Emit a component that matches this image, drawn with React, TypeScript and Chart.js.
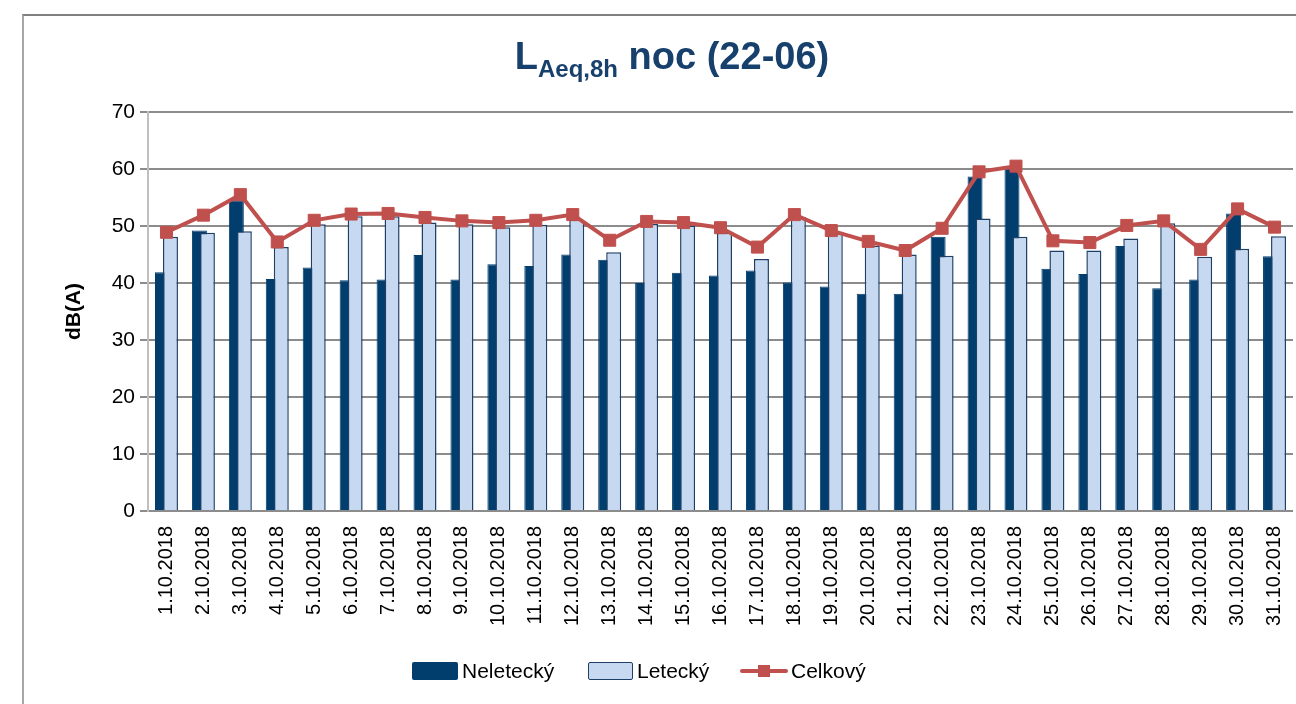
import React, { useEffect, useRef } from "react";
import { Chart, registerables } from "chart.js";

Chart.register(...registerables);

const dayLabels: string[] = [
  "1.10.2018", "2.10.2018", "3.10.2018", "4.10.2018", "5.10.2018", "6.10.2018",
  "7.10.2018", "8.10.2018", "9.10.2018", "10.10.2018", "11.10.2018", "12.10.2018",
  "13.10.2018", "14.10.2018", "15.10.2018", "16.10.2018", "17.10.2018", "18.10.2018",
  "19.10.2018", "20.10.2018", "21.10.2018", "22.10.2018", "23.10.2018", "24.10.2018",
  "25.10.2018", "26.10.2018", "27.10.2018", "28.10.2018", "29.10.2018", "30.10.2018",
  "31.10.2018",
];

const neleteckyValues: number[] = [
  41.9, 49.2, 54.5, 40.7, 42.7, 40.5, 40.6, 44.9, 40.6, 43.3,
  43.0, 45.0, 44.1, 40.0, 41.8, 41.3, 42.2, 40.1, 39.4, 38.1,
  38.1, 48.1, 58.7, 60.1, 42.5, 41.6, 46.5, 39.1, 40.6, 52.2,
  44.7,
];

const leteckyValues: number[] = [
  48.1, 48.8, 49.1, 46.3, 50.3, 51.7, 51.7, 50.6, 50.3, 49.8,
  50.2, 51.1, 45.4, 50.4, 50.1, 48.8, 44.2, 51.6, 48.7, 46.6,
  45.0, 44.8, 51.3, 48.1, 45.7, 45.7, 47.8, 50.5, 44.6, 46.0,
  48.2,
];

const celkovyValues: number[] = [
  48.9, 51.9, 55.5, 47.2, 51.0, 52.1, 52.2, 51.5, 50.9, 50.6,
  51.0, 52.0, 47.5, 50.8, 50.6, 49.7, 46.3, 52.0, 49.2, 47.3,
  45.7, 49.6, 59.5, 60.5, 47.4, 47.1, 50.1, 50.9, 45.9, 53.0,
  49.8,
];

const yTicks = { min: 0, max: 70, step: 10 };

const DARK = "#013D6D";
const LIGHT = "#C6D9F1";
const LIGHT_BORDER = "#1F3F66";
const RED = "#C0504D";

// Draw the "Neletecký" bars before the "Letecký" bars so the light bars overlap them.
const swapBarOrder = {
  id: "swapBarOrder",
  beforeDatasetDraw(chart: any, args: any) {
    if (args.index === 0) return false;
    if (args.index === 1) {
      const meta = chart.getDatasetMeta(0);
      if (!meta.hidden) meta.controller.draw();
    }
    return true;
  },
};

export default function App() {
  const canvasRef = useRef<HTMLCanvasElement | null>(null);

  useEffect(() => {
    if (!canvasRef.current) return;
    const chart = new Chart(canvasRef.current, {
      type: "bar",
      data: {
        labels: dayLabels,
        datasets: [
          {
            type: "bar",
            label: "Neletecký",
            data: neleteckyValues,
            backgroundColor: DARK,
            borderColor: DARK,
            borderWidth: 1,
            categoryPercentage: 0.433,
            barPercentage: 1.875,
            order: 0,
          },
          {
            type: "bar",
            label: "Letecký",
            data: leteckyValues,
            backgroundColor: LIGHT,
            borderColor: LIGHT_BORDER,
            borderWidth: 1.5,
            categoryPercentage: 0.433,
            barPercentage: 1.875,
            order: 0,
          },
          {
            type: "line",
            label: "Celkový",
            data: celkovyValues,
            borderColor: RED,
            backgroundColor: RED,
            borderWidth: 4,
            pointStyle: "rect",
            pointRadius: 8.5,
            pointBackgroundColor: RED,
            pointBorderColor: RED,
            pointBorderWidth: 1,
            tension: 0,
            clip: false,
            order: -1,
          } as any,
        ],
      },
      options: {
        responsive: false,
        animation: false,
        layout: { autoPadding: false, padding: { top: 112, left: 0, right: 3, bottom: 73 } },
        plugins: {
          legend: { display: false },
          title: { display: false },
          tooltip: { enabled: false },
        },
        scales: {
          x: {
            grid: { display: false, drawTicks: false },
            border: { display: false },
            ticks: {
              autoSkip: false,
              minRotation: 90,
              maxRotation: 90,
              padding: 15,
              color: "#000",
              font: { family: "'Liberation Sans', Arial, sans-serif", size: 20 },
            },
            afterFit: (scale: any) => {
              scale.height = 120;
              scale.paddingLeft = 0;
              scale.paddingRight = 0;
            },
          },
          y: {
            min: yTicks.min,
            max: yTicks.max,
            ticks: {
              stepSize: yTicks.step,
              padding: 5,
              color: "#000",
              font: { family: "'Liberation Sans', Arial, sans-serif", size: 21 },
            },
            grid: { color: "#8C8C8C", lineWidth: 2, tickLength: 8 },
            border: { display: true, color: "#BFBFBF", width: 2 },
            title: {
              display: true,
              text: "dB(A)",
              color: "#000",
              font: { family: "'Liberation Sans', Arial, sans-serif", size: 21, weight: "bold" },
              padding: { top: 62, bottom: 0 },
            },
            afterFit: (scale: any) => {
              scale.width = 148;
            },
          },
        },
      },
      plugins: [swapBarOrder],
    } as any);
    return () => chart.destroy();
  }, []);

  const legendText: React.CSSProperties = {
    position: "absolute",
    top: 658,
    fontFamily: "'Liberation Sans', Arial, sans-serif",
    fontSize: 21,
    lineHeight: "26px",
    color: "#000",
  };

  return (
    <div style={{ position: "absolute", left: 0, top: 0, width: 1296, height: 704, overflow: "hidden", background: "#fff" }}>
      <div
        style={{
          position: "absolute",
          left: 22,
          top: 14,
          width: 1300,
          height: 700,
          borderTop: "2px solid #808080",
          borderLeft: "2px solid #A6A6A6",
        }}
      />
      <canvas ref={canvasRef} width={1296} height={704} style={{ position: "absolute", left: 0, top: 0, width: 1296, height: 704 }} />
      <div
        style={{
          position: "absolute",
          left: 0,
          width: 1344,
          top: 33,
          textAlign: "center",
          fontFamily: "'Liberation Sans', Arial, sans-serif",
          fontWeight: "bold",
          fontSize: 38,
          color: "#17406D",
          lineHeight: "46px",
          whiteSpace: "nowrap",
        }}
      >
        L<sub style={{ fontSize: 24, verticalAlign: "-8px", lineHeight: 0 }}>Aeq,8h</sub> noc (22-06)
      </div>
      <div style={{ position: "absolute", left: 412, top: 662, width: 46, height: 18, background: DARK, borderRadius: 2 }} />
      <div style={{ ...legendText, left: 462 }}>Neletecký</div>
      <div
        style={{
          position: "absolute",
          left: 588,
          top: 662,
          width: 43,
          height: 16,
          background: LIGHT,
          border: `1.5px solid ${LIGHT_BORDER}`,
          borderRadius: 2,
        }}
      />
      <div style={{ ...legendText, left: 637 }}>Letecký</div>
      <div style={{ position: "absolute", left: 740, top: 669, width: 48, height: 4, background: RED, borderRadius: 2 }} />
      <div style={{ position: "absolute", left: 758, top: 665, width: 12, height: 12, background: RED }} />
      <div style={{ ...legendText, left: 791 }}>Celkový</div>
    </div>
  );
}
